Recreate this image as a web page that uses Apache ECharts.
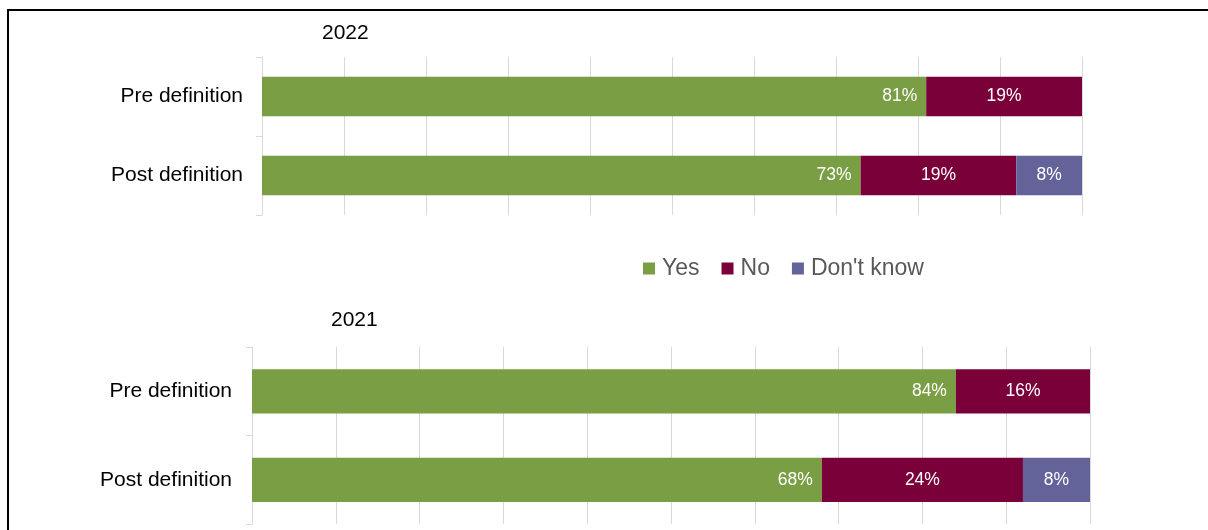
<!DOCTYPE html>
<html>
<head>
<meta charset="utf-8">
<script src="https://cdn.jsdelivr.net/npm/echarts@6/dist/echarts.min.js"></script>
<style>
  html, body { margin: 0; padding: 0; background: #fff; }
  #chart { width: 1208px; height: 530px; }
</style>
</head>
<body>
<div id="chart"></div>
<script>
// Survey answers before and after the definition was shown, by year (percent)
const categories = ['Pre definition', 'Post definition'];
const seriesNames = ['Yes', 'No', "Don't know"];
const yes2022 = [81, 73];
const no2022 = [19, 19];
const dontKnow2022 = [0, 8];
const yes2021 = [84, 68];
const no2021 = [16, 24];
const dontKnow2021 = [0, 8];
const panelTitles = ['2022', '2021'];

const colors = ['#7a9e44', '#7a003a', '#636399'];
const FONT = "'Liberation Sans', Arial, sans-serif";

const chart = echarts.init(document.getElementById('chart'));

function valueAxis(gridIndex) {
  return {
    type: 'value', gridIndex, min: 0, max: 100, interval: 10,
    axisLabel: { show: false }, axisLine: { show: false }, axisTick: { show: false },
    splitLine: { show: true, lineStyle: { color: '#d9d9d9', width: 1 } }
  };
}
function categoryAxis(gridIndex, margin) {
  return {
    type: 'category', gridIndex, data: categories, inverse: true,
    axisLine: { show: true, lineStyle: { color: '#d9d9d9', width: 1 } },
    axisTick: { show: true, length: 6, lineStyle: { color: '#d9d9d9' } },
    axisLabel: { color: '#000', fontSize: 21, fontFamily: FONT, margin: margin, padding: [2, 0, 0, 0] }
  };
}
function barSeries(name, data, idx, colorIdx, pos) {
  return {
    name, type: 'bar', stack: 'total' + idx, xAxisIndex: idx, yAxisIndex: idx,
    barWidth: '50%', data,
    itemStyle: { color: colors[colorIdx] },
    label: {
      show: true, position: pos, distance: 9, color: '#fff', fontSize: 17.5, fontFamily: FONT,
      formatter: p => (p.value > 0 ? p.value + '%' : '')
    },
    emphasis: { disabled: true }
  };
}

chart.setOption({
  animation: false,
  title: [
    { text: panelTitles[0], left: 317, top: 18, textStyle: { color: '#000', fontSize: 21, fontWeight: 'normal', fontFamily: FONT } },
    { text: panelTitles[1], left: 326, top: 305, textStyle: { color: '#000', fontSize: 21, fontWeight: 'normal', fontFamily: FONT } }
  ],
  legend: {
    data: seriesNames, left: 638, top: 252, itemWidth: 12, itemHeight: 12, itemGap: 22,
    icon: 'rect',
    textStyle: { color: '#595959', fontSize: 23, fontFamily: FONT, padding: [0, 0, 0, 2] }
  },
  grid: [
    { left: 262, right: 126, top: 57, height: 158 },
    { left: 252, right: 118, top: 347, height: 177 }
  ],
  xAxis: [valueAxis(0), valueAxis(1)],
  yAxis: [categoryAxis(0, 19), categoryAxis(1, 20)],
  graphic: [{
    type: 'polyline', silent: true,
    shape: { points: [[8, 540], [8, 10], [1220, 10]] },
    style: { stroke: '#000', lineWidth: 2, fill: null }
  }],
  series: [
    barSeries(seriesNames[0], yes2022, 0, 0, 'insideRight'),
    barSeries(seriesNames[1], no2022, 0, 1, 'inside'),
    barSeries(seriesNames[2], dontKnow2022, 0, 2, 'inside'),
    barSeries(seriesNames[0], yes2021, 1, 0, 'insideRight'),
    barSeries(seriesNames[1], no2021, 1, 1, 'inside'),
    barSeries(seriesNames[2], dontKnow2021, 1, 2, 'inside')
  ]
});
</script>
</body>
</html>
